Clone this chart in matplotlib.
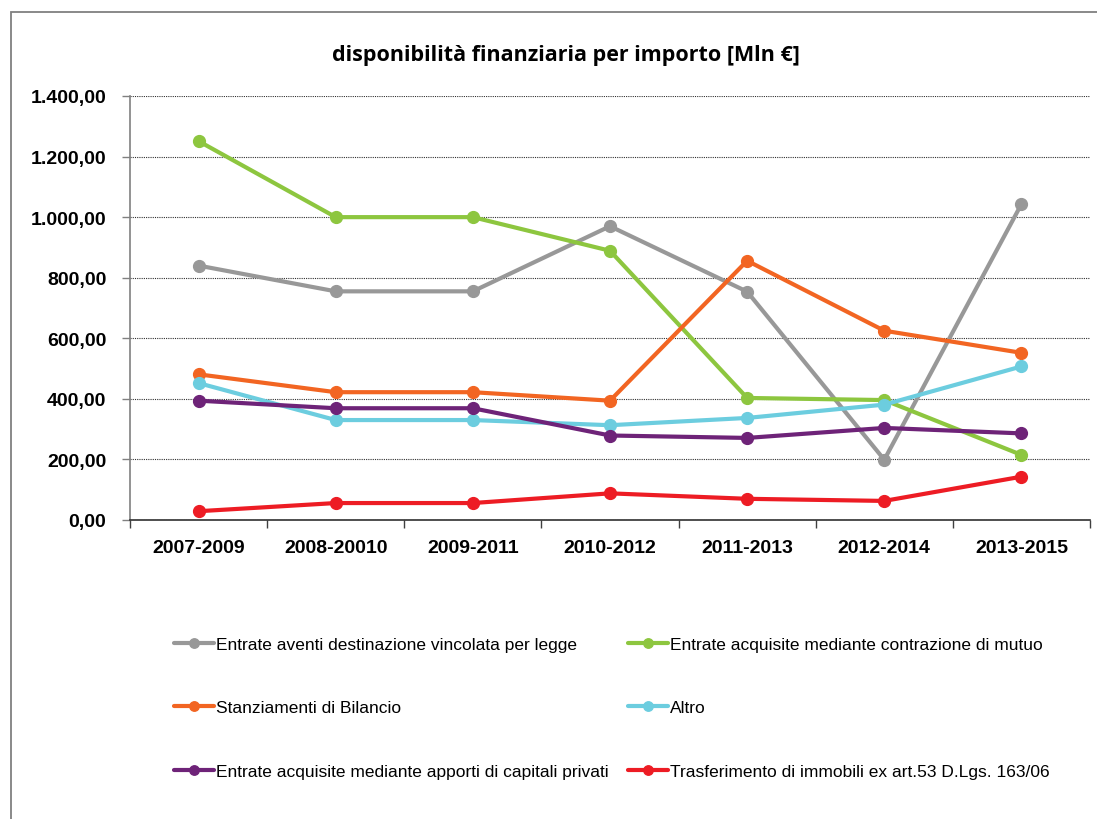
import matplotlib
matplotlib.use("Agg")
import matplotlib.pyplot as plt
import matplotlib.ticker as mticker
from matplotlib.patches import Rectangle

plt.rcParams["font.family"] = ["Liberation Sans", "DejaVu Sans"]

# ── Data (Mln €) ──────────────────────────────────────────
periods = ["2007-2009", "2008-20010", "2009-2011", "2010-2012",
           "2011-2013", "2012-2014", "2013-2015"]

vincolata = [840, 755, 755, 970, 754, 199, 1043]
mutuo = [1251, 1000, 1000, 889, 403, 396, 215]
bilancio = [481, 422, 422, 394, 856, 625, 552]
altro = [452, 330, 330, 313, 337, 381, 507]
privati = [394, 369, 369, 279, 271, 304, 286]
immobili = [29, 56, 56, 88, 70, 63, 143]

labels = [
    "Entrate aventi destinazione vincolata per legge",
    "Entrate acquisite mediante contrazione di mutuo",
    "Stanziamenti di Bilancio",
    "Altro",
    "Entrate acquisite mediante apporti di capitali privati",
    "Trasferimento di immobili ex art.53 D.Lgs. 163/06",
]
colors = ["#989898", "#8DC63F", "#F26522", "#6CCDDF", "#6E2378", "#ED1C24"]
series = [vincolata, mutuo, bilancio, altro, privati, immobili]

y_ticks = [0, 200, 400, 600, 800, 1000, 1200, 1400]

# ── Figure ────────────────────────────────────────────────
W, H = 1097, 820
fig = plt.figure(figsize=(W / 100, H / 100), dpi=100)
ax = fig.add_axes([130 / W, 1 - 521 / H, (1090 - 130) / W, (521 - 97) / H])

# outer chart frame (cut off on the right and bottom, like the source)
fig.patches.append(Rectangle((11 / W, -0.1), 1.2, 1 - 13 / H + 0.1,
                             transform=fig.transFigure, fill=False,
                             edgecolor="#808080", linewidth=1.3))

x = list(range(len(periods)))
lines = []
for vals, lab, col in zip(series, labels, colors):
    ln, = ax.plot(x, vals, color=col, linewidth=3, marker="o",
                  markersize=8.5, label=lab, solid_capstyle="round")
    lines.append(ln)

ax.set_xlim(-0.5, len(periods) - 0.5)
ax.set_ylim(0, 1400)
ax.set_yticks(y_ticks)
ax.yaxis.set_major_formatter(mticker.FuncFormatter(
    lambda v, p: f"{v:,.2f}".replace(",", "X").replace(".", ",").replace("X", ".")))

# category labels centred, tick marks at the boundaries
ax.set_xticks([i - 0.5 for i in range(len(periods) + 1)])
ax.set_xticklabels([])
ax.set_xticks(x, minor=True)
ax.set_xticklabels(periods, minor=True)
ax.tick_params(axis="x", which="major", length=6, width=1, color="#404040")
ax.tick_params(axis="x", which="minor", length=0, pad=14,
               labelsize=14)
ax.tick_params(axis="y", length=6, width=1, color="#808080", pad=11,
               labelsize=14)
for t in ax.get_xticklabels(minor=True) + ax.get_yticklabels():
    t.set_fontweight("bold")

ax.grid(axis="y", linestyle=(0, (1, 1)), linewidth=0.8, color="#303030")
ax.set_axisbelow(True)
for s in ("top", "right"):
    ax.spines[s].set_visible(False)
ax.spines["left"].set_color("#808080")
ax.spines["bottom"].set_color("#303030")
ax.spines["left"].set_linewidth(1.2)
ax.spines["bottom"].set_linewidth(1.2)

fig.text(566 / W, 1 - 55 / H, "disponibilità finanziaria per importo [Mln €]",
         ha="center", va="center", fontsize=15.5, fontweight="bold",
         family=["Open Sans", "DejaVu Sans"])

# legend: row-major order like the source, matplotlib fills column-first
order = [0, 2, 4, 1, 3, 5]
fig.legend([lines[i] for i in order], [labels[i] for i in order],
           ncol=2, loc="upper left", bbox_to_anchor=(158 / W, 1 - 622 / H),
           frameon=False, fontsize=12.5, handlelength=2.3, handletextpad=0.15,
           labelspacing=2.78, columnspacing=1.1, markerscale=0.8)

fig.savefig("out.png", dpi=100)
